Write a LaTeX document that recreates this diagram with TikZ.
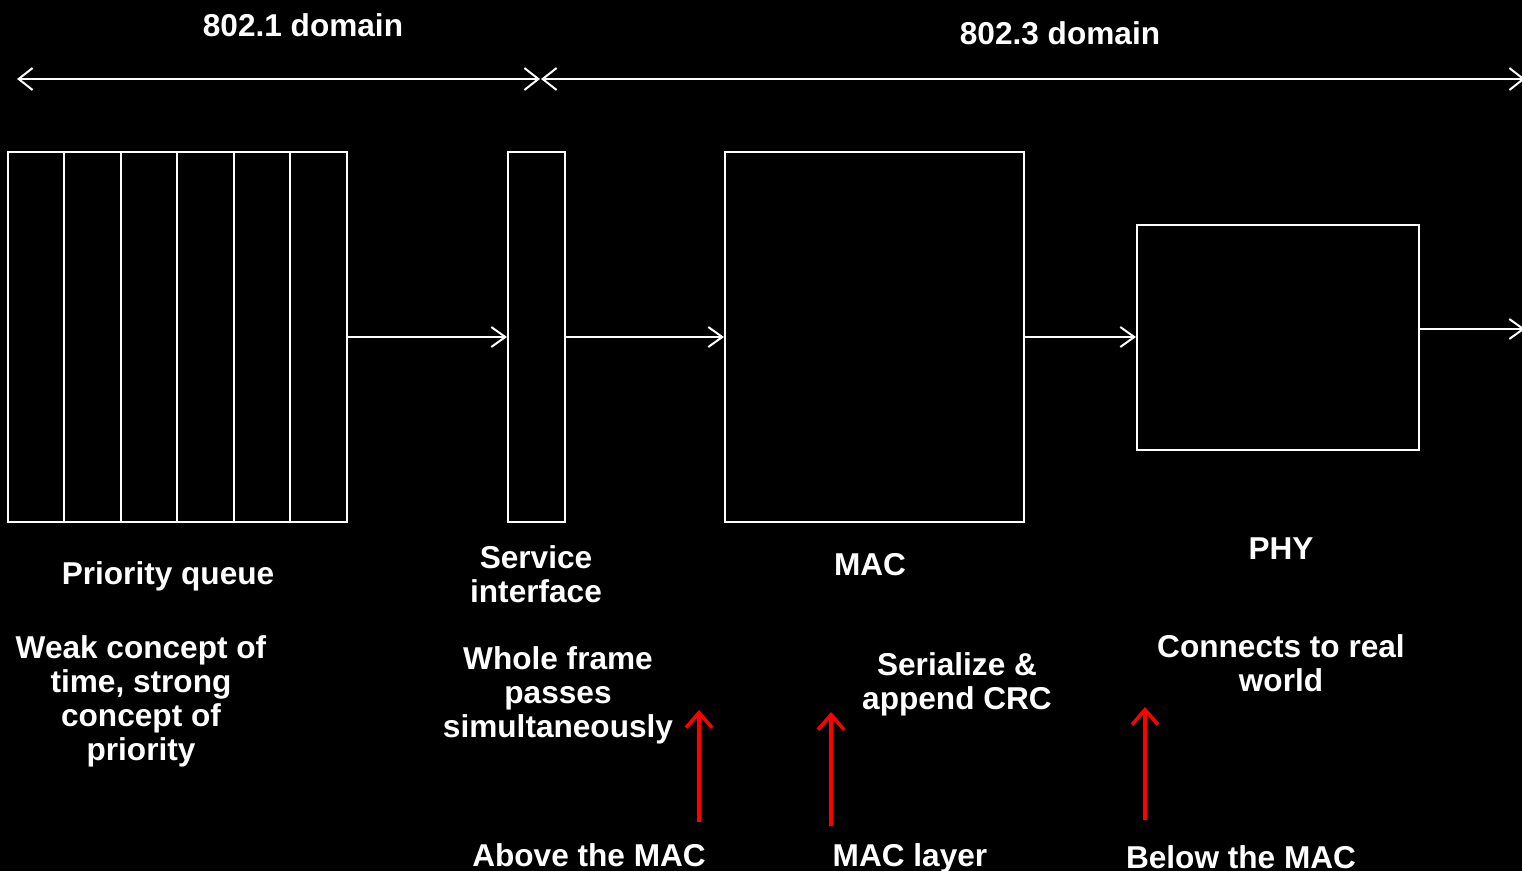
\documentclass[tikz,border=0pt]{standalone}
\usepackage{fontspec}
\setmainfont{Liberation Sans}
\usetikzlibrary{arrows.meta}
\begin{document}
\begin{tikzpicture}[x=1pt,y=-1pt,
  wline/.style={draw=white,line width=2pt},
  wbox/.style={draw=white,line width=2pt},
  warrow/.style={draw=white,line width=2pt,-{Straight Barb[length=14pt,width=20pt]}},
  wdarrow/.style={draw=white,line width=2pt,{Straight Barb[length=14pt,width=22pt]}-{Straight Barb[length=14pt,width=22pt]}},
  rarrow/.style={draw=red,line width=3.5pt,-{Straight Barb[length=15pt,width=26pt]}},
  lbl/.style={text=white,font=\bfseries\fontsize{31.6}{34}\selectfont,align=center,inner sep=0pt}]
\fill[black] (0,0) rectangle (1522,871);
\useasboundingbox (0,0) rectangle (1522,871);
% domain arrows
\coordinate (d1l) at (17,79);
\coordinate (d1r) at (540,79);
\coordinate (d2l) at (541,79);
\coordinate (d2r) at (1525,79);
\draw[wdarrow] (d1l) -- (d1r);
\draw[wdarrow] (d2l) -- (d2r);
\node[lbl] (t1) at (303,25) {802.1 domain};
\node[lbl] (t2) at (1060,33) {802.3 domain};
% boxes
\node[wbox,minimum width=339pt,minimum height=370pt,inner sep=0pt] (pq) at (177.5,337) {};
\foreach \x in {64,121,177,234,290} \draw[wline] (\x,152) -- (\x,522);
\node[wbox,minimum width=57pt,minimum height=370pt,inner sep=0pt] (si) at (536.5,337) {};
\node[wbox,minimum width=299pt,minimum height=370pt,inner sep=0pt] (mac) at (874.5,337) {};
\node[wbox,minimum width=282pt,minimum height=225pt,inner sep=0pt] (phy) at (1278,337.5) {};
\coordinate (out) at (1525,329);
% connectors
\draw[warrow] (pq.east) -- (si.west);
\draw[warrow] (si.east) -- (mac.west);
\draw[warrow] (mac.east) -- (phy.west |- mac.east);
\draw[warrow] (phy.east |- out) -- (out);
% labels
\node[lbl] (l1) at (168,576) {Priority queue};
\node[lbl] (l2) at (536,574) {Service\\interface};
\node[lbl] (l3) at (870,565) {MAC};
\node[lbl] (l4) at (1281,549) {PHY};
\node[lbl] (d1) at (141,701) {Weak concept of\\time, strong\\concept of\\priority};
\node[lbl] (dd2) at (558,695) {Whole frame\\passes\\simultaneously};
\node[lbl] (dd3) at (957,684) {Serialize \&\\append CRC};
\node[lbl] (dd4) at (1281,663) {Connects to real\\world};
% bottom
\node[lbl] (b1) at (589,855) {Above the MAC};
\node[lbl] (b2) at (910,858) {MAC layer};
\node[lbl] (b3) at (1241,857) {Below the MAC};
\coordinate (r1s) at (699,822); \coordinate (r1e) at (699,710);
\coordinate (r2s) at (831,826); \coordinate (r2e) at (831,712);
\coordinate (r3s) at (1145,820); \coordinate (r3e) at (1145,707);
\draw[rarrow] (r1s) -- (r1e);
\draw[rarrow] (r2s) -- (r2e);
\draw[rarrow] (r3s) -- (r3e);
\end{tikzpicture}
\end{document}
